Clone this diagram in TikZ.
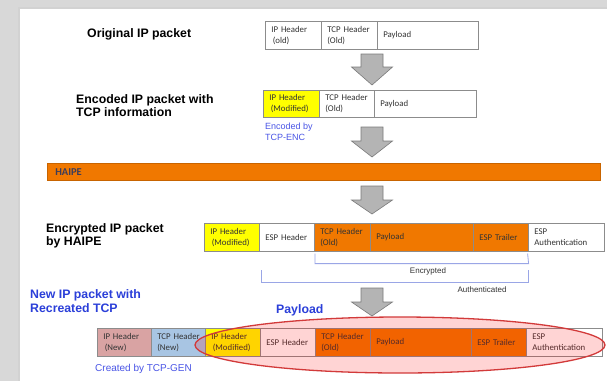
\documentclass[tikz,border=0pt]{standalone}
\usepackage{fontspec}
\setmainfont{Liberation Sans}
\newfontfamily\calfont{Carlito}
\usetikzlibrary{calc}
\definecolor{pyellow}{HTML}{FFFF00}
\definecolor{porange}{HTML}{F07800}
\definecolor{haipeline}{HTML}{C86400}
\definecolor{prose}{HTML}{D9A3A3}
\definecolor{pblue}{HTML}{A8C5E3}
\definecolor{lblue}{HTML}{2B3FD9}
\definecolor{sblue}{HTML}{4A55E6}
\definecolor{brk}{HTML}{9AA6E6}
\definecolor{celltxt}{HTML}{333333}
\definecolor{cellline}{HTML}{8C8C8C}
\definecolor{arrfill}{HTML}{B4B4B4}
\definecolor{arrline}{HTML}{7A7A7A}
\definecolor{ellline}{HTML}{D23A3A}
\definecolor{haipetxt}{HTML}{3C3C5A}
\definecolor{bggray}{HTML}{D8D8D8}
\tikzset{
  pcellst/.style={draw=cellline, line width=0.6pt, inner sep=0pt, align=left,
    font=\calfont\fontsize{8.8}{10.8}\selectfont, text=celltxt},
  lbl/.style={anchor=west, inner sep=0pt, align=left,
    font=\bfseries\fontsize{12.3}{13.3}\selectfont, text=black},
  small/.style={anchor=west, inner sep=0pt, align=left, text=sblue},
  brtext/.style={inner sep=0pt, font=\fontsize{8}{9}\selectfont, text=celltxt},
  bracket/.style={draw=brk, line width=0.8pt},
  garr/.style={draw=arrline, fill=arrfill, line width=0.6pt, line join=miter},
  ellip/.style={draw=ellline, line width=1.3pt, fill=red, fill opacity=0.17}
}
\newcommand\pcell[7]{%
  \pgfmathsetmacro\cw{#3-#2}\pgfmathsetmacro\ch{#5-#4}\pgfmathsetmacro\tw{#3-#2-12}%
  \node[pcellst, fill=#6, text width=\tw pt, minimum width=\cw pt,
        minimum height=\ch pt, anchor=north west] (#1) at (#2,#4) {#7};}
\newcommand\garrow[4]{%
  \draw[garr] (#1-11,#2) -- (#1+11,#2) -- (#1+11,#3) -- (#1+20.5,#3) -- (#1,#4)
    -- (#1-20.5,#3) -- (#1-11,#3) -- cycle;}
\begin{document}
\begin{tikzpicture}[x=1pt,y=-1pt]
\useasboundingbox (0,0) rectangle (607,381);
% background
\fill[bggray] (0,0) rectangle (607,381);
\fill[gray!35] (17.5,6.5) rectangle (607,381);
\fill[white] (20,8.5) rectangle (607,381);

% labels
\node[lbl] (l1) at (87,34) {Original IP packet};
\node[lbl] (l2) at (76,105.5) {Encoded IP packet with\\TCP information};
\node[lbl] (l3) at (46,235.5) {Encrypted IP packet\\by HAIPE};
\node[lbl, text=lblue] (l4) at (30,301) {New IP packet with\\Recreated TCP};
\node[lbl, text=lblue] (l5) at (276,310) {Payload};

% row 1
\pcell{r1a}{265}{321}{21}{49}{white}{IP~Header\\\hspace*{1.5pt}(old)}
\pcell{r1b}{321}{377}{21}{49}{white}{TCP~Header\\(Old)}
\pcell{r1c}{377}{478}{21}{49}{white}{Payload}

% row 2
\pcell{r2a}{263}{319}{90}{117}{pyellow}{IP~Header\\\hspace*{1.5pt}(Modified)}
\pcell{r2b}{319}{374}{90}{117}{white}{TCP~Header\\(Old)}
\pcell{r2c}{374}{476}{90}{117}{white}{Payload}
\node[small, font=\fontsize{9}{10.5}\selectfont] (enc) at (265,132) {Encoded by\\TCP-ENC};

% HAIPE bar
\node[draw=haipeline, fill=porange, line width=0.6pt, inner sep=0pt,
      minimum width=553pt, minimum height=17pt, text width=537pt, align=left,
      anchor=north west, font=\calfont\bfseries\fontsize{10.5}{12}\selectfont,
      text=haipetxt] (haipe) at (47,163) {HAIPE};

% row 3
\pcell{r3a}{204}{259}{223}{251}{pyellow}{IP~Header\\\hspace*{1.5pt}(Modified)}
\pcell{r3b}{259}{314}{223}{251}{white}{ESP~Header}
\pcell{r3c}{314}{370}{223}{251}{porange}{TCP~Header\\(Old)}
\pcell{r3d}{370}{473}{223}{251}{porange}{Payload}
\pcell{r3e}{473}{528}{223}{251}{porange}{ESP~Trailer}
\pcell{r3f}{528}{604}{223}{251}{white}{ESP\\Authentication}

% brackets
\draw[bracket] ($(r3c.south west)+(1,2)$) -- ++(0,10) coordinate (e1) -- (e1 -| r3e.south east) -- ($(r3e.south east)+(-1,2)$);
\node[brtext] (enctxt) at (428,271) {Encrypted};
\draw[bracket] (261,270) -- (261,282) -- (528,282) -- (528,270);
\node[brtext] (authtxt) at (482,290) {Authenticated};

% row 4
\pcell{r4a}{97}{151}{328}{356}{prose}{IP~Header\\\hspace*{1.5pt}(New)}
\pcell{r4b}{151}{205}{328}{356}{pblue}{TCP~Header\\(New)}
\pcell{r4c}{205}{260}{328}{356}{pyellow}{IP~Header\\\hspace*{1.5pt}(Modified)}
\pcell{r4d}{260}{315}{328}{356}{white}{ESP~Header}
\pcell{r4e}{315}{370}{328}{356}{porange}{TCP~Header\\(Old)}
\pcell{r4f}{370}{471}{328}{356}{porange}{Payload}
\pcell{r4g}{471}{526}{328}{356}{porange}{ESP~Trailer}
\pcell{r4h}{526}{602}{328}{356}{white}{ESP\\Authentication}
\node[small, font=\fontsize{10}{12}\selectfont] (gen) at (95,369) {Created by TCP-GEN};

% ellipse
\draw[ellip] (400,345) ellipse [x radius=205, y radius=28];

% block arrows
\garrow{372}{54}{67}{85}
\garrow{372}{127}{141}{157}
\garrow{372}{186}{200}{214}
\garrow{372}{288}{302}{316}
\end{tikzpicture}
\end{document}
